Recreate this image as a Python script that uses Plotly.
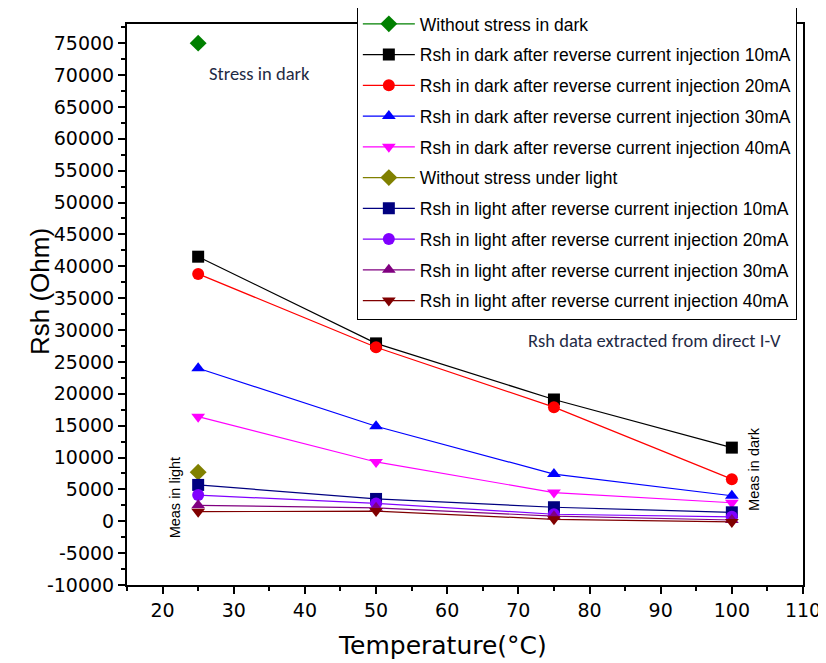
import plotly.graph_objects as go

temps = [25, 50, 75, 100]

names = [
    "Without stress in dark",
    "Rsh in dark after reverse current injection 10mA",
    "Rsh in dark after reverse current injection 20mA",
    "Rsh in dark after reverse current injection 30mA",
    "Rsh in dark after reverse current injection 40mA",
    "Without stress under light",
    "Rsh in light after reverse current injection 10mA",
    "Rsh in light after reverse current injection 20mA",
    "Rsh in light after reverse current injection 30mA",
    "Rsh in light after reverse current injection 40mA",
]

dark_no_stress = [75000]
dark_10mA = [41500, 27900, 19100, 11550]
dark_20mA = [38800, 27300, 17900, 6600]
dark_30mA = [24000, 14900, 7400, 4000]
dark_40mA = [16400, 9300, 4500, 2900]
light_no_stress = [7700]
light_10mA = [5700, 3500, 2200, 1400]
light_20mA = [4100, 2800, 1100, 700]
light_30mA = [2500, 2100, 800, 200]
light_40mA = [1500, 1600, 300, -100]

y_ticks = list(range(-10000, 75001, 5000))
y_tick_labels = [str(v) for v in y_ticks]

series = [dark_no_stress, dark_10mA, dark_20mA, dark_30mA, dark_40mA,
          light_no_stress, light_10mA, light_20mA, light_30mA, light_40mA]
colors = ["#008000", "#000000", "#FF0000", "#0000FF", "#FF00FF",
          "#808000", "#000080", "#8000FF", "#800080", "#800000"]
symbols = ["diamond", "square", "circle", "triangle-up", "triangle-down",
           "diamond", "square", "circle", "triangle-up", "triangle-down"]

fig = go.Figure()
for i, (nm, ys, c, s) in enumerate(zip(names, series, colors, symbols)):
    fig.add_trace(go.Scatter(
        x=temps[:len(ys)], y=ys, name=nm, mode="lines+markers",
        line=dict(color=c, width=1.2),
        marker=dict(color=c, symbol=s, size=12 if s != "diamond" else 13),
        legendgroup="g%d" % i,
    ))

# page body has an 8px default margin: size the figure to fill the rest of the window
fig.update_layout(
    width=818, height=655,
    margin=dict(l=119, r=23, t=16, b=78, autoexpand=False),
    paper_bgcolor="white", plot_bgcolor="white",
    font=dict(family="Liberation Sans, Arial", color="black"),
    showlegend=True,
    legend=dict(
        x=0.340, y=1.0339, xanchor="left", yanchor="top",
        bgcolor="white", bordercolor="black", borderwidth=1,
        font=dict(size=17.5, color="black"),
        tracegroupgap=5, itemwidth=52, maxheight=500,
    ),
)

tick_font = dict(family="DejaVu Sans", size=19, color="black")
fig.update_xaxes(
    range=[15, 110], dtick=10, tick0=0, automargin=False,
    showgrid=False, zeroline=False,
    showline=True, linecolor="black", linewidth=2, mirror=True,
    ticks="outside", ticklen=7, tickwidth=2, tickcolor="black",
    minor=dict(dtick=5, ticks="outside", ticklen=4, tickwidth=2, tickcolor="black"),
    tickfont=tick_font,
)
fig.update_yaxes(
    range=[-10000, 78000], tickvals=y_ticks, ticktext=y_tick_labels, automargin=False,
    showgrid=False, zeroline=False,
    showline=True, linecolor="black", linewidth=2, mirror=True,
    ticks="outside", ticklen=7, tickwidth=2, tickcolor="black",
    minor=dict(dtick=2500, tick0=0, ticks="outside", ticklen=4, tickwidth=2, tickcolor="black"),
    tickfont=tick_font,
)

# axis titles
fig.add_annotation(x=0.467, y=-0.107, xref="paper", yref="paper", text="Temperature(°C)",
                   showarrow=False, xanchor="center", yanchor="middle",
                   font=dict(family="DejaVu Sans", size=25, color="black"))
fig.add_annotation(x=-0.1287, y=0.524, xref="paper", yref="paper", text="Rsh (Ohm)",
                   showarrow=False, xanchor="center", yanchor="middle", textangle=-90,
                   font=dict(family="Liberation Sans", size=26, color="black"))

ann_font = dict(family="Carlito, Liberation Sans", size=18.5, color="#1f2a44")
fig.add_annotation(x=33.6, y=70200, text="Stress in dark", showarrow=False,
                   xanchor="center", yanchor="middle", font=ann_font)
fig.add_annotation(x=89.1, y=28400, text="Rsh data extracted from direct I-V",
                   showarrow=False, xanchor="center", yanchor="middle", font=ann_font)
fig.add_annotation(x=21.7, y=3700, text="Meas in light", showarrow=False, textangle=-90,
                   xanchor="center", yanchor="middle",
                   font=dict(family="Liberation Sans", size=14.5, color="black"))
fig.add_annotation(x=103.2, y=8150, text="Meas in dark", showarrow=False, textangle=-90,
                   xanchor="center", yanchor="middle",
                   font=dict(family="Liberation Sans", size=14.5, color="black"))

fig.write_html("out.html")
